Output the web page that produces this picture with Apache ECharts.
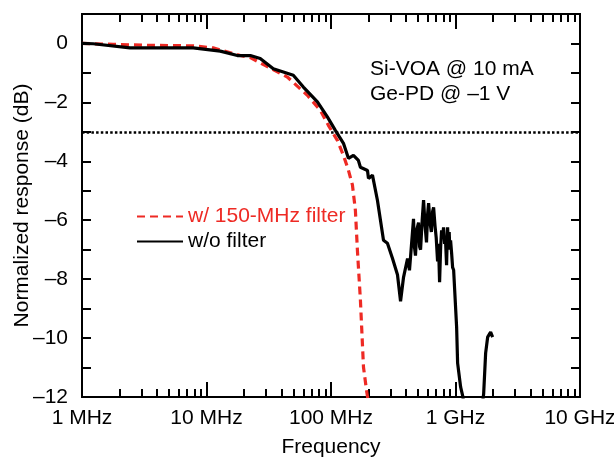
<!DOCTYPE html>
<html><head><meta charset="utf-8">
<script src="https://cdn.jsdelivr.net/npm/echarts@6/dist/echarts.min.js"></script>
<style>html,body{margin:0;padding:0;background:#fff}#c{width:614px;height:457px}</style>
</head><body><div id="c"></div>
<script>
// ---- data ----
const xTickLabels = ['1 MHz', '10 MHz', '100 MHz', '1 GHz', '10 GHz'];
const xMajorTicks = [1, 10, 100, 1000, 10000];
const xMinorTicks = [2,3,4,5,6,7,8,9,20,30,40,50,60,70,80,90,200,300,400,500,600,700,800,900,2000,3000,4000,5000,6000,7000,8000,9000];
const yTickValues = [0, -2, -4, -6, -8, -10, -12];

const seriesNames = ['w/ 150-MHz filter', 'w/o filter'];

// w/ 150-MHz filter (frequency in MHz, response in dB)
const freqFiltered = [1.0, 1.78, 3.33, 7.82, 11.3, 18.7, 22.5, 44.6, 64.6, 82.2, 95.3, 112.5, 125.9, 138, 148.6, 157, 163, 172.3, 182.3, 192.7, 200];
const respFiltered = [0, -0.03, -0.06, -0.08, -0.15, -0.41, -0.48, -1.14, -1.76, -2.27, -2.78, -3.29, -3.80, -4.30, -4.80, -5.66, -7.02, -8.71, -10.98, -11.76, -12.2];

// w/o filter
const freqRaw = [1.0, 1.23, 2.43, 7.82, 12.9, 17.7, 22.5, 27.0, 34.4, 41.4, 49.8, 60.0, 77.8, 93.5, 108.4, 125.9, 138, 151.4, 166, 172.3, 196.4, 200, 215.3, 236, 264, 284, 312, 342, 362, 382, 412, 427,
  460, 468, 477, 490, 505, 515, 524, 540, 554, 570, 585, 597, 608, 625, 640, 655, 667, 685, 700, 718, 730, 745, 760, 773, 787, 802, 818, 830, 848, 856, 864, 877, 890, 900, 913, 930, 948, 966,
  1021, 1040, 1099, 1141, 1185, 1622, 1683, 1746, 1812, 1915, 1987];
const respRaw = [0, -0.01, -0.15, -0.15, -0.26, -0.41, -0.41, -0.51, -0.86, -0.97, -1.08, -1.48, -1.98, -2.49, -2.95, -3.39, -3.90, -3.80, -3.97, -4.20, -4.31, -4.58, -4.47, -5.32, -6.68, -6.78, -7.30, -7.85, -8.75, -7.95, -7.30, -7.70,
  -5.95, -6.9, -7.20, -6.3, -6.08, -6.9, -7.00, -6.0, -5.32, -6.2, -6.75, -5.8, -5.42, -6.1, -6.40, -5.7, -5.56, -6.2, -6.60, -7.40, -6.8, -8.10, -6.9, -6.34, -6.6, -6.24, -6.8, -6.60, -7.53, -6.8, -6.24, -6.9, -6.40, -7.0, -6.68, -7.1, -7.60, -7.69,
  -9.63, -10.85, -11.66, -11.95, -12.4, -12.4, -11.9, -10.51, -9.97, -9.80, -9.97];

const refLevel = -3;
const noteLines = ['Si-VOA @ 10 mA', 'Ge-PD @ \u20131 V'];

// ---- chart ----
const RED = '#ee2a24';
const FONT = 'Liberation Sans, Arial, sans-serif';
const FS = 21;
const chart = echarts.init(document.getElementById('c'), null, {renderer: 'canvas'});

function xAx(pos, ticks, len, withLabels) {
  return {
    type: 'log', logBase: 10, min: 1, max: 10000, position: pos,
    axisLine: {show: true, onZero: false, lineStyle: {color: '#000', width: 2}},
    axisTick: {show: true, inside: true, length: len, customValues: ticks, lineStyle: {color: '#000', width: 2}},
    axisLabel: withLabels ? {
      show: true, customValues: xMajorTicks,
      formatter: v => xTickLabels[Math.round(Math.log10(v))],
      margin: 11, fontSize: FS, color: '#000', fontFamily: FONT
    } : {show: false},
    splitLine: {show: false}
  };
}
const xAxes = [
  xAx('bottom', xMajorTicks, 15, true),
  xAx('bottom', xMinorTicks, 8, false),
  xAx('top', xMajorTicks, 15, false),
  xAx('top', xMinorTicks, 8, false)
];
Object.assign(xAxes[0], {
  name: 'Frequency', nameLocation: 'middle', nameGap: 40, nameMoveOverlap: false,
  nameTextStyle: {fontSize: FS, color: '#000', fontFamily: FONT}
});

const yAxes = [
  {
    type: 'value', min: -12, max: 1, interval: 1, position: 'left',
    axisLine: {show: true, onZero: false, lineStyle: {color: '#000', width: 2}},
    axisTick: {show: true, inside: true, length: 9, lineStyle: {color: '#000', width: 2}},
    axisLabel: {
      show: true, margin: 14, fontSize: FS, color: '#000', fontFamily: FONT,
      formatter: v => yTickValues.indexOf(v) < 0 ? '' : (v === 0 ? '0' : '\u2013' + Math.abs(v))
    },
    splitLine: {show: false},
    name: 'Normalized response (dB)', nameLocation: 'middle', nameGap: 49, nameMoveOverlap: false,
    nameTextStyle: {fontSize: FS, color: '#000', fontFamily: FONT}
  },
  {
    type: 'value', min: -12, max: 1, interval: 1, position: 'right',
    axisLine: {show: true, onZero: false, lineStyle: {color: '#000', width: 2}},
    axisTick: {show: true, inside: true, length: 9, lineStyle: {color: '#000', width: 2}},
    axisLabel: {show: false}, splitLine: {show: false}
  }
];

chart.setOption({
  animation: false,
  backgroundColor: '#fff',
  grid: {left: 82, right: 34, top: 14, bottom: 60, containLabel: false, outerBoundsMode: 'none'},
  xAxis: xAxes,
  yAxis: yAxes,
  legend: {
    orient: 'vertical', left: 136, top: 206, padding: 0,
    itemWidth: 46, itemHeight: 14, itemGap: 4,
    itemStyle: {opacity: 0, color: 'rgba(0,0,0,0)', borderWidth: 0},
    textStyle: {fontSize: FS, fontFamily: FONT},
    data: [
      {name: seriesNames[0], textStyle: {color: RED}},
      {name: seriesNames[1], textStyle: {color: '#000'}}
    ]
  },
  graphic: noteLines.map((t, i) => ({
    type: 'text', left: 370, top: 59 + i * 25,
    style: {text: t, fontSize: FS, fontFamily: FONT, fill: '#000'}
  })),
  series: [
    {
      name: seriesNames[0], type: 'line', xAxisIndex: 0, yAxisIndex: 0,
      symbol: 'none', clip: true, smooth: false,
      lineStyle: {color: RED, width: 3.2, type: [8, 5]},
      itemStyle: {color: RED},
      data: freqFiltered.map((f, i) => [f, respFiltered[i]]),
      z: 2
    },
    {
      name: seriesNames[1], type: 'line', xAxisIndex: 0, yAxisIndex: 0,
      symbol: 'none', clip: true, smooth: false,
      lineStyle: {color: '#000', width: 3.2},
      itemStyle: {color: '#000'},
      data: freqRaw.map((f, i) => [f, respRaw[i]]),
      markLine: {
        silent: true, symbol: 'none', animation: false,
        label: {show: false},
        lineStyle: {color: '#000', width: 2.5, type: [2.5, 2.2]},
        data: [{yAxis: refLevel}]
      },
      z: 3
    }
  ]
});
</script>
</body></html>
